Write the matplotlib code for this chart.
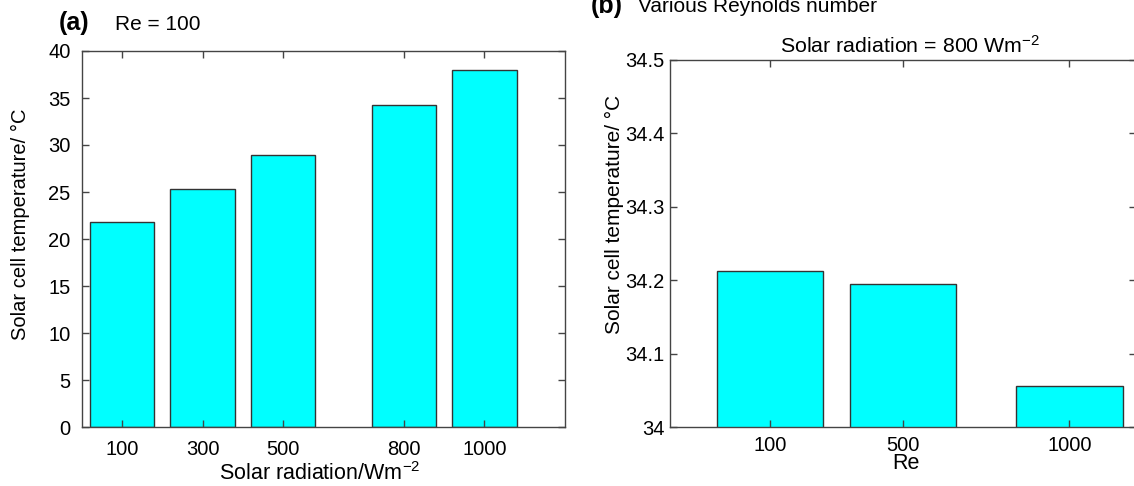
import numpy as np
import matplotlib
matplotlib.use('Agg')
import matplotlib.pyplot as plt

plt.rcParams['font.family'] = ['Liberation Sans', 'DejaVu Sans']
plt.rcParams['mathtext.fontset'] = 'custom'
plt.rcParams['mathtext.rm'] = 'Liberation Sans'
plt.rcParams['mathtext.it'] = 'Liberation Sans:italic'

# (a) Re = 100, cell temperature vs solar radiation
radiation = [100, 300, 500, 800, 1000]
temp_a = [21.8, 25.35, 28.9, 34.21, 37.95]

# (b) solar radiation = 800 W/m2, cell temperature vs Re
reynolds = [100, 500, 1000]
temp_b = [34.213, 34.195, 34.056]

W, H = 1134, 486
fig = plt.figure(figsize=(W/100, H/100), dpi=100)

def px(x0, y0, x1, y1):
    # pixel box -> figure fraction [left, bottom, width, height]
    return [x0/W, 1-y1/H, (x1-x0)/W, (y1-y0)/H]

face = '#00ffff'
edge = '#333333'
spine = '#444444'

def style(ax):
    for s in ax.spines.values():
        s.set_color(spine)
        s.set_linewidth(1.0)
    ax.tick_params(direction='in', length=5, width=1, color=spine,
                   top=True, right=True, labelsize=14.5)

# ------------------------------------------------------------------------------
ax1 = fig.add_axes(px(81.7, 51, 565, 427))
ax1.bar(radiation, temp_a, width=160, color=face, edgecolor=edge, linewidth=1)
ax1.set_xlim(0, 1200)
ax1.set_ylim(0, 40)
ax1.set_xticks(radiation)
ax1.set_yticks(range(0, 41, 5))
style(ax1)
ax1.tick_params(axis='x', pad=9.5)
ax1.tick_params(axis='y', pad=8)
ax1.set_xlabel('Solar radiation/Wm$^{-2}$', fontsize=15.5, va='center')
ax1.xaxis.set_label_coords(0.493, -0.125)
ax1.set_ylabel('Solar cell temperature/ \u00b0C', fontsize=14.5, va='center')
ax1.yaxis.set_label_coords(-0.1277, 0.54)

# ------------------------------------------------------------------------------
ax2 = fig.add_axes(px(670, 59.8, 1136, 427.2))
ax2.bar(reynolds, temp_b, width=320, color=face, edgecolor=edge, linewidth=1)
ax2.set_xlim(-200, 1200)
ax2.set_ylim(34, 34.5)
ax2.set_xticks(reynolds)
ax2.set_yticks(np.arange(34, 34.51, 0.1))
ax2.set_yticklabels(['34', '34.1', '34.2', '34.3', '34.4', '34.5'])
style(ax2)
ax2.tick_params(axis='x', pad=6)
ax2.tick_params(axis='y', pad=4)
ax2.set_xlabel('Re', fontsize=15.5, va='center')
ax2.xaxis.set_label_coords(0.506, -0.100)
ax2.set_ylabel('Solar cell temperature/ \u00b0C', fontsize=15, va='center')
ax2.yaxis.set_label_coords(-0.120, 0.580)

# panel headings
fig.text(59/W, 1-30/H, '(a)', fontsize=18, fontweight='bold', va='baseline')
fig.text(115/W, 1-30/H, 'Re = 100', fontsize=15, va='baseline')
fig.text(591/W, 1-12.5/H, '(b)', fontsize=18, fontweight='bold', va='baseline')
fig.text(638/W, 1-12.5/H, 'Various Reynolds number', fontsize=15, va='baseline')
fig.text(910/W, 1-53/H, 'Solar radiation = 800 Wm$^{-2}$', fontsize=15.4,
         ha='center', va='baseline')

plt.savefig('out.png', dpi=100)
plt.close()
